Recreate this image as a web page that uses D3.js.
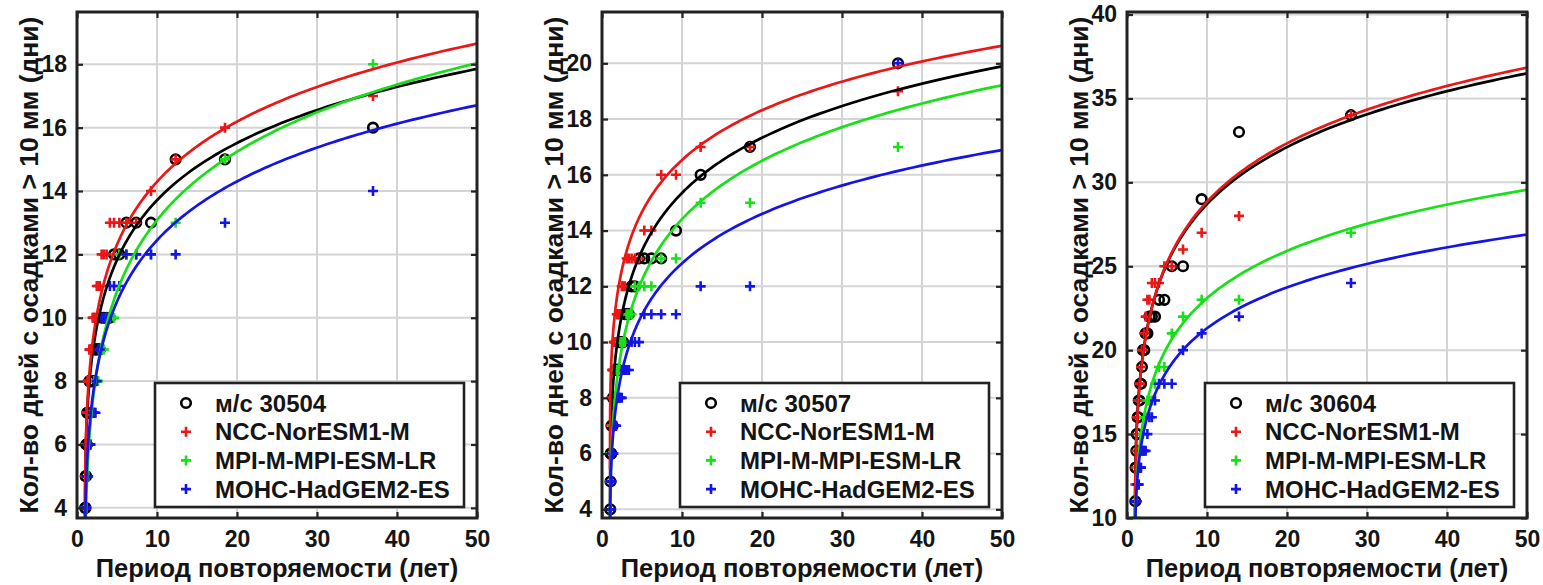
<!DOCTYPE html>
<html><head><meta charset="utf-8">
<script src="https://cdn.jsdelivr.net/npm/d3@7"></script>
<style>
body{margin:0;background:#fff;}
text{font-family:"Liberation Sans",Arial,sans-serif;font-weight:bold;fill:#141414;}
</style>
</head><body>
<svg id="chart" width="1543" height="585"></svg>
<script>
// ---------- data ----------
const xTicks = [0, 10, 20, 30, 40, 50];
const yTicks1 = [4, 6, 8, 10, 12, 14, 16, 18];
const yTicks2 = [4, 6, 8, 10, 12, 14, 16, 18, 20];
const yTicks3 = [10, 15, 20, 25, 30, 35, 40];

const seriesNames = ["NCC-NorESM1-M", "MPI-M-MPI-ESM-LR", "MOHC-HadGEM2-ES"];
const stationNames = ["м/с 30504", "м/с 30507", "м/с 30604"];

// empirical return periods (years) of ranked values
const returnPeriod36 = [37, 18.5, 12.33, 9.25, 7.4, 6.17, 5.29, 4.63, 4.11, 3.7, 3.36, 3.08, 2.85, 2.64, 2.47, 2.31, 2.18, 2.06, 1.95, 1.85, 1.76, 1.68, 1.61, 1.54, 1.48, 1.42, 1.37, 1.32, 1.28, 1.23, 1.19, 1.16, 1.12, 1.09, 1.06, 1.03];
const returnPeriod27 = [28, 14, 9.33, 7, 5.6, 4.67, 4, 3.5, 3.11, 2.8, 2.55, 2.33, 2.15, 2, 1.87, 1.75, 1.65, 1.56, 1.47, 1.4, 1.33, 1.27, 1.22, 1.17, 1.12, 1.08, 1.04];

// panel 1: м/с 30504
const obs30504  = [16, 15, 15, 13, 13, 13, 12, 12, 10, 10, 10, 10, 9, 9, 9, 9, 9, 8, 8, 8, 8, 8, 8, 8, 7, 7, 7, 7, 7, 6, 6, 6, 5, 5, 4, 4];
const ncc30504  = [17, 16, 15, 14, 13, 13, 13, 13, 13, 12, 12, 12, 11, 11, 11, 10, 10, 10, 10, 9, 9, 9, 9, 9, 8, 8, 8, 8, 7, 7, 7, 7, 6, 6, 6, 5];
const mpi30504  = [18, 15, 13, 12, 12, 12, 12, 10, 10, 10, 9, 9, 9, 8, 8, 8, 8, 7, 7, 7, 7, 6, 6, 6, 6, 5, 5, 5, 5, 5, 4, 4, 4, 4, 4, 4];
const mohc30504 = [14, 13, 12, 12, 12, 12, 11, 11, 11, 10, 10, 10, 9, 9, 8, 7, 7, 7, 7, 7, 7, 6, 6, 6, 6, 6, 5, 5, 5, 5, 5, 4, 4, 4, 4, 4];

// panel 2: м/с 30507
const obs30507  = [20, 17, 16, 14, 13, 13, 13, 13, 12, 12, 11, 11, 11, 10, 10, 10, 10, 9, 9, 9, 9, 9, 8, 8, 8, 8, 8, 7, 7, 7, 7, 6, 6, 6, 5, 4];
const ncc30507  = [19, 17, 17, 16, 16, 14, 14, 13, 13, 13, 13, 13, 12, 12, 12, 11, 11, 11, 11, 11, 10, 10, 10, 10, 10, 9, 9, 9, 9, 8, 8, 8, 7, 7, 6, 6];
const mpi30507  = [17, 15, 15, 13, 13, 12, 12, 12, 12, 11, 11, 11, 10, 10, 10, 10, 9, 9, 9, 9, 8, 8, 8, 8, 7, 7, 7, 7, 7, 6, 6, 6, 6, 5, 5, 4];
const mohc30507 = [20, 12, 12, 11, 11, 11, 11, 10, 10, 10, 9, 9, 9, 9, 8, 8, 8, 8, 8, 8, 7, 7, 7, 7, 7, 6, 6, 6, 6, 6, 5, 5, 5, 5, 4, 4];

// panel 3: м/с 30604
const obs30604  = [34, 33, 29, 25, 25, 23, 23, 22, 22, 22, 21, 21, 20, 20, 19, 18, 18, 17, 17, 16, 16, 15, 15, 14, 13, 13, 11];
const ncc30604  = [34, 28, 27, 26, 25, 25, 24, 24, 24, 23, 23, 22, 21, 20, 20, 19, 18, 18, 17, 17, 16, 16, 15, 14, 13, 13, 12];
const mpi30604  = [27, 23, 23, 22, 21, 19, 19, 18, 17, 17, 17, 16, 16, 15, 15, 14, 14, 14, 13, 13, 13, 12, 12, 11, 11, 10, 10];
const mohc30604 = [24, 22, 21, 20, 18, 18, 18, 17, 16, 16, 15, 14, 14, 14, 14, 13, 13, 13, 12, 12, 12, 12, 11, 11, 11, 11, 11];

// Gumbel fit parameters [location, scale] for station, NCC, MPI, MOHC
const fitLoc1 = [8.06, 8.35, 6.33, 6.64];
const fitScale1 = [2.51, 2.64, 3.0, 2.58];
const fitLoc2 = [9.16, 10.95, 7.86, 7.29];
const fitScale2 = [2.75, 2.48, 2.91, 2.46];
const fitLoc3 = [18.08, 17.95, 14.3, 13.7];
const fitScale3 = [4.72, 4.84, 3.91, 3.38];

const yDomain1 = [3.68, 19.65];
const yDomain2 = [3.69, 21.84];
const yDomain3 = [10.0, 40.15];

// ---------- styles ----------
const colors = ["#000000", "#ec1616", "#16e016", "#1414e6"];
const labelY = "Кол-во дней с осадками > 10 мм (дни)";
const labelX = "Период повторяемости (лет)";

const panels = [
  {left: 77, station: stationNames[0], T: returnPeriod36, series: [obs30504, ncc30504, mpi30504, mohc30504], loc: fitLoc1, scale: fitScale1, yDomain: yDomain1, yTicks: yTicks1},
  {left: 602, station: stationNames[1], T: returnPeriod36, series: [obs30507, ncc30507, mpi30507, mohc30507], loc: fitLoc2, scale: fitScale2, yDomain: yDomain2, yTicks: yTicks2},
  {left: 1127, station: stationNames[2], T: returnPeriod27, series: [obs30604, ncc30604, mpi30604, mohc30604], loc: fitLoc3, scale: fitScale3, yDomain: yDomain3, yTicks: yTicks3}
];
const W = 400, TOP = 12, BOTTOM = 518;
const R = 4.8, C = 5, MW = 2.6;

const svg = d3.select("#chart");

// sample points for the fitted curves (dense near T=1)
const tGrid = d3.range(-4, Math.log10(49) + 0.001, 0.01).map(k => 1 + Math.pow(10, k));

function cross(sel, cx, cy, color) {
  return sel.append("path").attr("d", `M${cx - C},${cy}h${2 * C}M${cx},${cy - C}v${2 * C}`)
    .attr("stroke", color).attr("stroke-width", MW).attr("fill", "none");
}

panels.forEach((p, pi) => {
  const x = d3.scaleLinear().domain([0, 50]).range([p.left, p.left + W]);
  const y = d3.scaleLinear().domain(p.yDomain).range([BOTTOM, TOP]);
  const g = svg.append("g");

  const clipId = "clip" + pi;
  svg.append("clipPath").attr("id", clipId).append("rect")
    .attr("x", p.left).attr("y", TOP).attr("width", W).attr("height", BOTTOM - TOP);

  // grid
  g.append("g").selectAll("line").data(xTicks.slice(1, -1)).join("line")
    .attr("x1", d => x(d)).attr("x2", d => x(d)).attr("y1", TOP).attr("y2", BOTTOM)
    .attr("stroke", "#d4d4d4").attr("stroke-width", 2);
  g.append("g").selectAll("line").data(p.yTicks).join("line")
    .attr("y1", d => y(d)).attr("y2", d => y(d)).attr("x1", p.left).attr("x2", p.left + W)
    .attr("stroke", "#d4d4d4").attr("stroke-width", 2);

  const plot = g.append("g").attr("clip-path", `url(#${clipId})`);

  // markers: station circles first, then model crosses
  p.series.forEach((vals, si) => {
    const pts = vals.map((v, i) => [p.T[i], v]);
    if (si === 0) {
      plot.append("g").selectAll("circle").data(pts).join("circle")
        .attr("cx", d => x(d[0])).attr("cy", d => y(d[1])).attr("r", R)
        .attr("fill", "none").attr("stroke", colors[0]).attr("stroke-width", MW);
    } else {
      plot.append("g").selectAll("path").data(pts).join("path")
        .attr("d", d => `M${x(d[0]) - C},${y(d[1])}h${2 * C}M${x(d[0])},${y(d[1]) - C}v${2 * C}`)
        .attr("stroke", colors[si]).attr("stroke-width", MW).attr("fill", "none");
    }
  });

  // fitted Gumbel curves
  const line = d3.line().x(d => x(d[0])).y(d => y(d[1]));
  p.loc.forEach((mu, si) => {
    const beta = p.scale[si];
    const pts = tGrid.map(t => [t, mu - beta * Math.log(-Math.log(1 - 1 / t))])
      .filter(d => d[1] > p.yDomain[0] - 3);
    plot.append("path").datum(pts).attr("d", line)
      .attr("fill", "none").attr("stroke", colors[si]).attr("stroke-width", 2.7);
  });

  // axes (ticks inside, on all four sides)
  const axB = d3.axisBottom(x).tickValues(xTicks).tickSize(-6).tickPadding(13).tickFormat(d3.format("d"));
  const axT = d3.axisTop(x).tickValues(xTicks).tickSize(-6).tickFormat("");
  const axL = d3.axisLeft(y).tickValues(p.yTicks).tickSize(-6).tickPadding(10).tickFormat(d3.format("d"));
  const axR = d3.axisRight(y).tickValues(p.yTicks).tickSize(-6).tickFormat("");
  [[axB, `translate(0,${BOTTOM})`], [axT, `translate(0,${TOP})`], [axL, `translate(${p.left},0)`], [axR, `translate(${p.left + W},0)`]]
    .forEach(([ax, tr]) => {
      const a = g.append("g").attr("transform", tr).call(ax);
      a.select(".domain").remove();
      a.selectAll(".tick line").attr("stroke", "#222").attr("stroke-width", 2.2);
      a.selectAll("text").style("font-size", "23px").attr("fill", "#141414");
    });
  g.append("rect").attr("x", p.left).attr("y", TOP).attr("width", W).attr("height", BOTTOM - TOP)
    .attr("fill", "none").attr("stroke", "#222").attr("stroke-width", 3);

  // axis labels
  g.append("text").attr("x", p.left + W / 2).attr("y", 577).attr("text-anchor", "middle")
    .style("font-size", "25.5px").text(labelX);
  g.append("text").attr("transform", `translate(${p.left - 48},${(TOP + BOTTOM) / 2}) rotate(-90)`)
    .attr("text-anchor", "middle").attr("dominant-baseline", "central")
    .style("font-size", "26.5px").text(labelY);

  // legend
  const lx = p.left + 78, ly = 383, lw = 309, lh = 124;
  const lg = g.append("g");
  lg.append("rect").attr("x", lx).attr("y", ly).attr("width", lw).attr("height", lh)
    .attr("fill", "#fff").attr("stroke", "#222").attr("stroke-width", 2.6);
  const labels = [p.station].concat(seriesNames);
  labels.forEach((lab, i) => {
    const cy = ly + 20 + i * 28.7, cx = lx + 31;
    if (i === 0) {
      lg.append("circle").attr("cx", cx).attr("cy", cy).attr("r", R)
        .attr("fill", "none").attr("stroke", colors[0]).attr("stroke-width", MW);
    } else {
      cross(lg, cx, cy, colors[i]);
    }
    lg.append("text").attr("x", lx + 60).attr("y", cy).attr("dominant-baseline", "central")
      .style("font-size", "24px").text(lab);
  });
});
</script>
</body></html>
